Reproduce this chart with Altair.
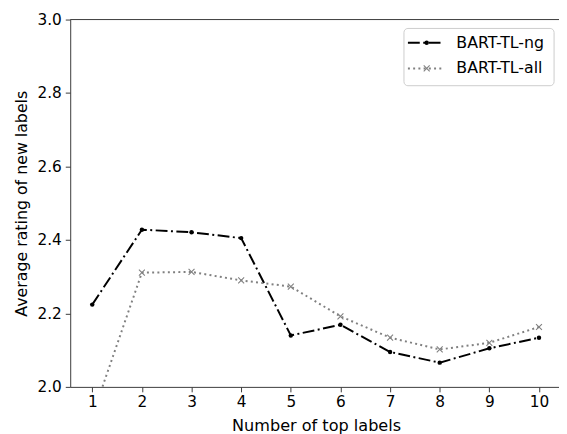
import altair as alt
import pandas as pd

x_vals = [1, 2, 3, 4, 5, 6, 7, 8, 9, 10]
ng_vals = [2.224, 2.428, 2.421, 2.405, 2.140, 2.169, 2.095, 2.066, 2.105, 2.134]
all_vals = [1.92, 2.311, 2.313, 2.290, 2.273, 2.192, 2.134, 2.102, 2.120, 2.163]
series_names = ["BART-TL-ng", "BART-TL-all"]
y_ticks = [2.0, 2.2, 2.4, 2.6, 2.8, 3.0]

rows = []
for x, v in zip(x_vals, ng_vals):
    rows.append({"x": x, "y": v, "series": series_names[0]})
for x, v in zip(x_vals, all_vals):
    rows.append({"x": x, "y": v, "series": series_names[1]})
df = pd.DataFrame(rows)

W, H = 495, 372
FONT = "DejaVu Sans"
SPINE = "#3a3a3a"
GRAY = "#808080"
NG_DASH = [12, 3.5, 2, 3.5]
ALL_DASH = [2, 3.3]

xscale = alt.Scale(domain=[0.556, 10.403], nice=False, zero=False)
yscale = alt.Scale(domain=[2.0, 3.0], nice=False, zero=False)

xaxis = alt.Axis(values=x_vals, title="Number of top labels", grid=False,
                 domainColor=SPINE, tickColor=SPINE, tickSize=5, labelPadding=3,
                 labelFontSize=15.5, labelColor="#000", titleFontSize=16.3, titleFontWeight="normal",
                 titleColor="#000", titleBaseline="alphabetic", titleX=249, titleY=44,
                 labelFont=FONT, titleFont=FONT)
yaxis = alt.Axis(values=y_ticks, format=".1f", title="Average rating of new labels", grid=False,
                 domainColor=SPINE, tickColor=SPINE, tickSize=5, labelPadding=4,
                 labelFontSize=15.5, labelColor="#000", titleFontSize=16, titleFontWeight="normal",
                 titleColor="#000", titleBaseline="alphabetic", titleX=-44, titleY=H / 2,
                 titleAngle=-90, titleAlign="center",
                 labelFont=FONT, titleFont=FONT)

color_scale = alt.Scale(domain=series_names, range=["#000000", GRAY])
dash_scale = alt.Scale(domain=series_names, range=[NG_DASH, ALL_DASH])
x_marker = "M-1,-1L1,1M-1,1L1,-1"

base = alt.Chart(df)

lines = base.mark_line(strokeWidth=2, clip=True).encode(
    x=alt.X("x:Q", scale=xscale, axis=xaxis),
    y=alt.Y("y:Q", scale=yscale, axis=yaxis),
    color=alt.Color("series:N", scale=color_scale, legend=None),
    strokeDash=alt.StrokeDash("series:N", scale=dash_scale, legend=None),
    order=alt.Order("x:Q"),
)

ng_pts = base.transform_filter(alt.datum.series == series_names[0]).mark_point(
    filled=True, shape="circle", size=20, color="#000000", opacity=1, clip=True
).encode(x=alt.X("x:Q", scale=xscale), y=alt.Y("y:Q", scale=yscale))

all_pts = base.transform_filter(alt.datum.series == series_names[1]).mark_point(
    filled=False, shape=x_marker, size=36, color=GRAY, strokeWidth=1.1, opacity=1, clip=True
).encode(x=alt.X("x:Q", scale=xscale), y=alt.Y("y:Q", scale=yscale))

# ---- frame and legend (decoration, pixel placement inside the plot area) ----
one = pd.DataFrame({"k": [0]})
top_spine = alt.Chart(one).mark_rule(color=SPINE, strokeWidth=1).encode(
    y=alt.value(0), x=alt.value(0), x2=alt.value(W)
)

LX0, LX1, LY0, LY1 = 338, 490, 9, 67
ROW_Y = [23.5, 49.5]
SYM_X0, SYM_X1, SYM_XM, TXT_X = 342, 376, 361, 391

legend_box = alt.Chart(one).mark_rect(
    fill="white", fillOpacity=0.85, stroke="#cccccc", strokeWidth=1, cornerRadius=4
).encode(x=alt.value(LX0), x2=alt.value(LX1), y=alt.value(LY0), y2=alt.value(LY1))

legend_layers = [legend_box]
styles = [
    dict(color="#000000", dash=NG_DASH, shape="circle", filled=True, size=20, sw=1),
    dict(color=GRAY, dash=ALL_DASH, shape=x_marker, filled=False, size=36, sw=1.1),
]
for name, ry, st in zip(series_names, ROW_Y, styles):
    legend_layers.append(
        alt.Chart(one).mark_rule(color=st["color"], strokeWidth=2, strokeDash=st["dash"]).encode(
            x=alt.value(SYM_X0), x2=alt.value(SYM_X1), y=alt.value(ry))
    )
    legend_layers.append(
        alt.Chart(one).mark_point(shape=st["shape"], filled=st["filled"], size=st["size"],
                                  color=st["color"], strokeWidth=st["sw"], opacity=1).encode(
            x=alt.value(SYM_XM), y=alt.value(ry))
    )
    legend_layers.append(
        alt.Chart(one).mark_text(text=name, font=FONT, fontSize=16, color="#000",
                                 align="left", baseline="middle").encode(
            x=alt.value(TXT_X), y=alt.value(ry))
    )

chart = alt.layer(lines, all_pts, ng_pts, top_spine, *legend_layers).properties(
    width=W, height=H,
    autosize=alt.AutoSizeParams(type="none"),
    padding={"left": 63, "top": 9, "right": 0, "bottom": 45},
).configure(font=FONT, background="white").configure_view(stroke=None)

chart.save("out.html", embed_options={"renderer": "svg", "actions": False})
